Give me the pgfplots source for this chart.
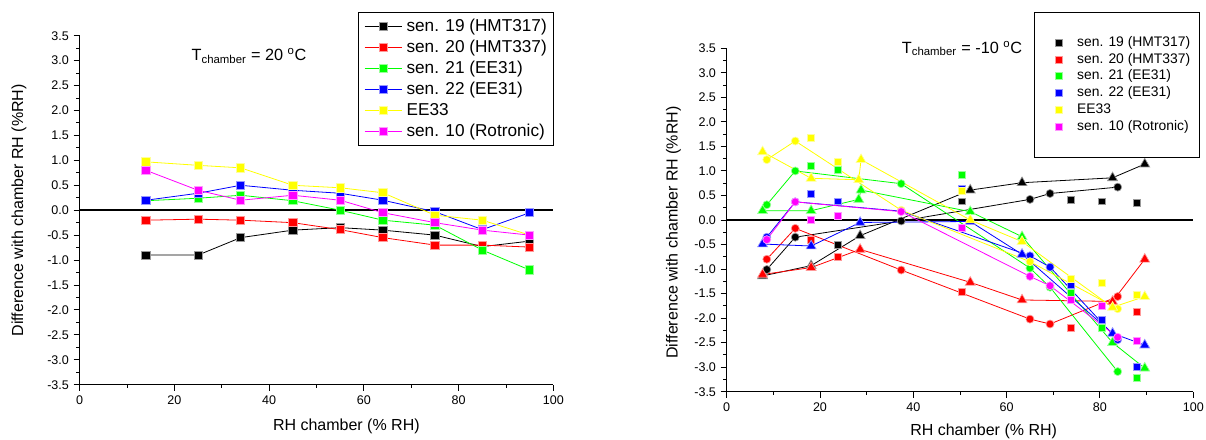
\documentclass[border=0pt]{standalone}
\usepackage{pgfplots}
\pgfplotsset{compat=1.18}
\usepackage{fontspec}
\setmainfont{Liberation Sans}
\definecolor{cK}{RGB}{0,0,0}
\definecolor{cR}{RGB}{255,0,0}
\definecolor{cG}{RGB}{0,255,0}
\definecolor{cB}{RGB}{0,0,255}
\definecolor{cY}{RGB}{255,255,0}
\definecolor{cM}{RGB}{255,0,255}
\pgfplotsset{
  base/.style={
    scale only axis, anchor=south west,
    xmin=0, xmax=100, ymin=-3.5, ymax=3.5,
    axis x line*=bottom, axis y line*=left,
    axis line style={line width=0.8pt, black},
    xtick={0,20,40,60,80,100}, minor x tick num=1,
    ytick={-3.5,-3,-2.5,-2,-1.5,-1,-0.5,0,0.5,1,1.5,2,2.5,3,3.5}, minor y tick num=1,
    tick align=outside, major tick length=4.5pt, minor tick length=2.4pt,
    tick style={line width=0.7pt, black},
    /pgf/number format/assume math mode=true,
    yticklabel style={/pgf/number format/fixed, /pgf/number format/fixed zerofill, /pgf/number format/precision=1},
    ticklabel style={font=\fontsize{9.4}{11}\selectfont},
    label style={font=\fontsize{12}{14}\selectfont},
    xlabel={RH chamber (\% RH)},
    ylabel={Difference with chamber RH (\%RH)},
    clip=false,
    legend cell align=left,
  },
  lsq/.style={color=#1, line width=0.6pt, mark=square*, mark size=3.1pt, mark options={solid, fill=#1, draw=#1!40!white, line width=0.6pt}},
  rsq/.style={color=#1, only marks, mark=square*, mark size=2.6pt, mark options={fill=#1, draw=#1!40!white, line width=0.5pt}},
  rci/.style={color=#1, line width=0.6pt, mark=*, mark size=3pt, mark options={fill=#1, draw=#1!40!white, line width=0.5pt}},
  rtr/.style={color=#1, line width=0.6pt, mark=triangle*, mark size=4.3pt, mark options={fill=#1, draw=#1!40!white, line width=0.5pt}},
}
\begin{document}
\begin{tikzpicture}
\useasboundingbox (0,0) rectangle (904.5pt,329.25pt);
% ---------------- left panel ----------------
\begin{axis}[base,
  at={(59.7pt,40.725pt)}, width=355.35pt, height=261.75pt,
  xlabel style={at={(axis description cs:0.563,-0.1203)}, anchor=center},
  ylabel style={at={(axis description cs:-0.1277,0.5)}, anchor=center},
  legend style={at={(1.0017,1.067)}, anchor=north east, draw=black, line width=0.75pt, fill=white,
    font=\fontsize{12.9}{15}\selectfont, inner xsep=4.2pt, inner ysep=2.4pt,
    nodes={inner sep=1pt, text height=10.5pt, text depth=3.25pt},
    row sep=0pt, /tikz/every odd column/.append style={column sep=2.35pt}},
  legend image code/.code={\draw[mark repeat=2,mark phase=2,#1] plot coordinates {(0pt,0pt)(13.9pt,0pt)(27.8pt,0pt)};},
]
\addplot[black, line width=1.3pt, forget plot] coordinates {(0,0) (100,0)};
\addplot[lsq=cK] coordinates {(14,-0.90)(25,-0.90)(34,-0.55)(45,-0.40)(55,-0.35)(64,-0.40)(75,-0.50)(85,-0.73)(95,-0.62)};
\addlegendentry{sen. 19 (HMT317)}
\addplot[lsq=cR] coordinates {(14,-0.20)(25,-0.18)(34,-0.20)(45,-0.25)(55,-0.39)(64,-0.55)(75,-0.70)(85,-0.70)(95,-0.74)};
\addlegendentry{sen. 20 (HMT337)}
\addplot[lsq=cG] coordinates {(14,0.19)(25,0.24)(34,0.30)(45,0.19)(55,0.00)(64,-0.20)(75,-0.30)(85,-0.80)(95,-1.20)};
\addlegendentry{sen. 21 (EE31)}
\addplot[lsq=cB] coordinates {(14,0.20)(25,0.34)(34,0.50)(45,0.40)(55,0.34)(64,0.20)(75,-0.03)(85,-0.39)(95,-0.05)};
\addlegendentry{sen. 22 (EE31)}
\addplot[lsq=cY] coordinates {(14,0.97)(25,0.90)(34,0.85)(45,0.50)(55,0.45)(64,0.35)(75,-0.10)(85,-0.20)(95,-0.50)};
\addlegendentry{EE33}
\addplot[lsq=cM] coordinates {(14,0.80)(25,0.40)(34,0.20)(45,0.30)(55,0.20)(64,-0.05)(75,-0.25)(85,-0.40)(95,-0.50)};
\addlegendentry{sen. 10 (Rotronic)}
\node[anchor=base west, font=\fontsize{12.2}{14}\selectfont, inner sep=0pt] at (axis cs:23.6,3.0) {T\textsubscript{chamber} = 20 \textsuperscript{o}C};
\end{axis}
% ---------------- right panel ----------------
\begin{axis}[base,
  at={(545.0pt,35.475pt)}, width=349.95pt, height=257.55pt,
  xlabel style={at={(axis description cs:0.5507,-0.1165)}, anchor=center},
  ylabel style={at={(axis description cs:-0.1142,0.4636)}, anchor=center},
  legend style={at={(1.0154,1.1066)}, anchor=north east, draw=black, line width=0.75pt, fill=white,
    font=\fontsize{10.4}{12}\selectfont, inner xsep=6.3pt, inner ysep=16.7pt,
    nodes={inner sep=1pt, text height=8pt, text depth=2.55pt},
    row sep=0pt, /tikz/every odd column/.append style={column sep=7.5pt}},
  legend image code/.code={\path[draw=none,fill=none] (0pt,-2pt) rectangle (17pt,2pt); \draw[#1, only marks] plot coordinates {(12pt,0pt)};},
]
\addplot[black, line width=0.8pt, forget plot] coordinates {(0,0) (100,0)};
% black
\addplot[rsq=cK] coordinates {(23.9,-0.50)(50.3,0.38)(73.7,0.42)(80.5,0.38)(88.0,0.35)};
\addlegendentry{sen. 19 (HMT317)}
\addplot[rci=cK, forget plot] coordinates {(8.6,-1.01)(14.7,-0.35)(37.4,-0.02)(65.0,0.42)(69.3,0.54)(83.8,0.67)};
\addplot[rtr=cK, forget plot] coordinates {(7.7,-1.14)(18.1,-0.93)(28.6,-0.32)(52.2,0.61)(63.3,0.76)(82.7,0.86)(89.6,1.14)};
% red
\addplot[rsq=cR] coordinates {(18.1,-0.40)(23.9,-0.75)(50.3,-1.47)(73.7,-2.19)(80.5,-2.17)(88.0,-1.88)};
\addlegendentry{sen. 20 (HMT337)}
\addplot[rci=cR, forget plot] coordinates {(8.6,-0.80)(14.7,-0.17)(37.4,-1.02)(65.0,-2.02)(69.3,-2.12)(83.8,-1.56)};
\addplot[rtr=cR, forget plot] coordinates {(7.7,-1.11)(18.1,-0.97)(28.6,-0.60)(52.2,-1.27)(63.3,-1.63)(82.7,-1.66)(89.6,-0.80)};
% green
\addplot[rsq=cG] coordinates {(18.1,1.11)(23.9,1.03)(50.3,0.93)(73.7,-1.48)(80.5,-2.19)(88.0,-3.22)};
\addlegendentry{sen. 21 (EE31)}
\addplot[rci=cG, forget plot] coordinates {(8.6,0.31)(14.7,1.00)(37.4,0.74)(65.0,-0.98)(69.3,-1.37)(83.8,-3.09)};
\addplot[rtr=cG, forget plot] coordinates {(7.7,0.19)(18.1,0.19)(28.3,0.42)(28.8,0.61)(52.2,0.17)(63.3,-0.34)(82.7,-2.50)(89.6,-3.02)};
% blue
\addplot[rsq=cB] coordinates {(18.1,0.54)(23.9,0.38)(50.3,0.63)(73.7,-1.32)(80.5,-2.04)(88.0,-3.00)};
\addlegendentry{sen. 22 (EE31)}
\addplot[rci=cB, forget plot] coordinates {(8.6,-0.35)(14.7,0.37)(37.4,0.18)(65.0,-0.73)(69.3,-0.96)(83.8,-2.44)};
\addplot[rtr=cB, forget plot] coordinates {(7.7,-0.49)(18.1,-0.53)(28.6,-0.05)(52.2,-0.03)(63.3,-0.70)(82.7,-2.31)(89.6,-2.55)};
% yellow
\addplot[rsq=cY] coordinates {(18.1,1.68)(23.9,1.19)(50.3,0.60)(73.7,-1.19)(80.5,-1.29)(88.0,-1.53)};
\addlegendentry{EE33}
\addplot[rci=cY, forget plot] coordinates {(8.6,1.23)(14.7,1.61)(37.4,0.20)(65.0,-0.85)(83.8,-1.81)};
\addplot[rtr=cY, forget plot] coordinates {(7.7,1.39)(18.1,0.85)(28.3,0.82)(28.8,1.23)(52.2,0.00)(63.3,-0.44)(82.7,-1.78)(89.6,-1.56)};
% magenta
\addplot[rsq=cM] coordinates {(18.1,0.01)(23.9,0.09)(50.3,-0.16)(73.7,-1.62)(80.5,-1.75)(88.0,-2.46)};
\addlegendentry{sen. 10 (Rotronic)}
\addplot[rci=cM, forget plot] coordinates {(8.6,-0.40)(14.7,0.37)(37.4,0.17)(65.0,-1.15)(69.3,-1.34)(83.8,-2.39)};
\node[anchor=base west, font=\fontsize{12.2}{14}\selectfont, inner sep=0pt] at (axis cs:37.5,3.4) {T\textsubscript{chamber} = -10 \textsuperscript{o}C};
\end{axis}
\end{tikzpicture}
\end{document}
